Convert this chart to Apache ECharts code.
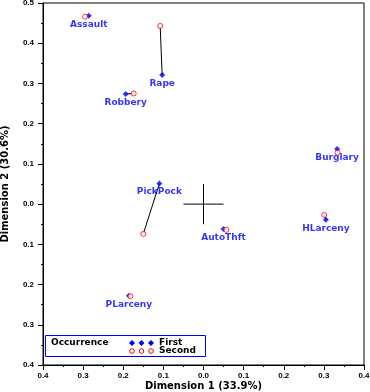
<!DOCTYPE html>
<html><head><meta charset="utf-8">
<script src="https://cdn.jsdelivr.net/npm/echarts@6/dist/echarts.min.js"></script>
<style>html,body{margin:0;padding:0;background:#fff}#c{width:370px;height:392px}</style>
</head><body><div id="c"></div>
<script>
// Data
const crimes  = ['Assault', 'Rape', 'Robbery', 'PickPock', 'AutoThft', 'HLarceny', 'Burglary', 'PLarceny'];
const firstX  = [-0.286, -0.103, -0.194, -0.110, 0.050, 0.305, 0.333, -0.186];
const firstY  = [ 0.468,  0.321,  0.274,  0.051, -0.062, -0.039, 0.137, -0.228];
const secondX = [-0.295, -0.108, -0.174, -0.150, 0.057, 0.301, 0.334, -0.182];
const secondY = [ 0.466,  0.443,  0.275, -0.074, -0.064, -0.027, 0.128, -0.229];
const xTickValues = [-0.4, -0.3, -0.2, -0.1, 0.0, 0.1, 0.2, 0.3, 0.4];
const yTickValues = [-0.4, -0.3, -0.2, -0.1, 0.0, 0.1, 0.2, 0.3, 0.4, 0.5];
const xTitle = 'Dimension 1 (33.9%)';
const yTitle = 'Dimension 2 (30.6%)';
const legendTitle = 'Occurrence';
const legendNames = ['First', 'Second'];
const crossArm = 0.05;

const BLUE = '#0000ff', RED = '#ff0000';
const FONT = 'DejaVu Sans';
const tickFmt = v => Math.abs(v).toFixed(1);

const pairLines = crimes.map((n, i) => ({
  type: 'line', silent: true, symbol: 'none', z: 2,
  lineStyle: { color: '#000', width: 1 },
  data: [[firstX[i], firstY[i]], [secondX[i], secondY[i]]]
}));

const cross = [
  [[-crossArm, 0], [crossArm, 0]],
  [[0, -crossArm], [0, crossArm]]
].map(d => ({
  type: 'line', silent: true, symbol: 'none', z: 2,
  lineStyle: { color: '#000', width: 1 }, data: d
}));

function axisCommon(min, max) {
  return {
    type: 'value', min: min, max: max, interval: 0.1,
    axisLine: { show: true, onZero: false, lineStyle: { color: '#000', width: 1 } },
    axisTick: { show: true, length: 5, lineStyle: { color: '#000' } },
    minorTick: { show: true, splitNumber: 2, length: 2, lineStyle: { color: '#000' } },
    splitLine: { show: false },
    axisLabel: {
      color: '#000', fontFamily: 'Liberation Sans', fontWeight: 'bold', fontSize: 8,
      formatter: v => tickFmt(v)
    },
    nameLocation: 'middle',
    nameMoveOverlap: false,
    nameTextStyle: { color: '#000', fontFamily: FONT, fontWeight: 'bold', fontSize: 10 }
  };
}

const xAxis = Object.assign(axisCommon(xTickValues[0], xTickValues[xTickValues.length - 1]), {
  name: xTitle, nameGap: 16
});
xAxis.axisLabel.margin = 7;
const yAxis = Object.assign(axisCommon(yTickValues[0], yTickValues[yTickValues.length - 1]), {
  name: yTitle, nameGap: 33, nameRotate: 90
});
yAxis.axisLabel.margin = 9;

const legendFont = { fontFamily: FONT, fontWeight: 'bold', fontSize: 9, fill: '#000' };
function diamond(cx, cy, r) {
  return { type: 'polygon', shape: { points: [[cx, cy - r], [cx + r, cy], [cx, cy + r], [cx - r, cy]] }, style: { fill: BLUE } };
}
function ring(cx, cy) {
  return { type: 'circle', shape: { cx: cx, cy: cy, r: 2.3 }, style: { fill: '#fff', stroke: RED, lineWidth: 1 } };
}
const legendGraphics = [
  { type: 'rect', shape: { x: 45.5, y: 335.5, width: 160, height: 21 }, style: { fill: '#fff', stroke: BLUE, lineWidth: 1 }, z: 10 },
  { type: 'text', x: 51, y: 343, style: Object.assign({ text: legendTitle, verticalAlign: 'middle' }, legendFont), z: 11 },
  { type: 'text', x: 159, y: 343, style: Object.assign({ text: legendNames[0], verticalAlign: 'middle' }, legendFont), z: 11 },
  { type: 'text', x: 159, y: 351, style: Object.assign({ text: legendNames[1], verticalAlign: 'middle' }, legendFont), z: 11 }
];
[132, 141.5, 151].forEach(x => {
  const d = diamond(x, 343, 3); d.z = 11; legendGraphics.push(d);
  const r = ring(x, 351); r.z = 11; legendGraphics.push(r);
});

const chart = echarts.init(document.getElementById('c'), null, { renderer: 'canvas' });
chart.setOption({
  animation: false,
  backgroundColor: '#fff',
  grid: {
    left: 43, right: 6, top: 3, bottom: 27, show: true, borderColor: '#000', borderWidth: 1,
    containLabel: false, outerBoundsMode: 'none'
  },
  xAxis: xAxis,
  yAxis: yAxis,
  graphic: legendGraphics,
  series: pairLines.concat(cross).concat([
    {
      type: 'scatter', name: legendNames[0], z: 3,
      symbol: 'diamond', symbolSize: 6,
      itemStyle: { color: BLUE },
      label: {
        show: true, position: 'bottom', distance: 1, formatter: '{b}',
        color: BLUE, fontFamily: FONT, fontWeight: 'bold', fontSize: 9
      },
      data: crimes.map((n, i) => ({ name: n, value: [firstX[i], firstY[i]] }))
    },
    {
      type: 'scatter', name: legendNames[1], z: 4,
      symbol: 'circle', symbolSize: 5,
      itemStyle: { color: '#fff', borderColor: RED, borderWidth: 1 },
      data: crimes.map((n, i) => ({ name: n, value: [secondX[i], secondY[i]] }))
    }
  ])
});
</script>
</body></html>
